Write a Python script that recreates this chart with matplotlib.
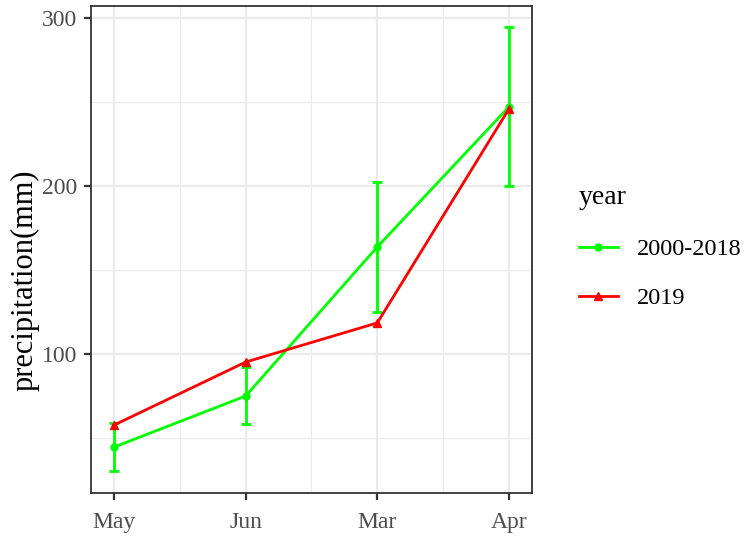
import matplotlib
matplotlib.use("Agg")
import matplotlib.pyplot as plt
from matplotlib.ticker import MultipleLocator, FixedLocator
import numpy as np

months = ["May", "Jun", "Mar", "Apr"]
mean_2000_2018 = [44.6, 75.0, 163.7, 247.0]
err_low = [30.4, 58.3, 125.0, 200.0]
err_high = [58.9, 92.3, 202.4, 294.6]
val_2019 = [57.7, 95.2, 118.5, 245.8]

plt.rcParams['font.family'] = ['Liberation Serif', 'DejaVu Serif']

fig = plt.figure(figsize=(7.5, 5.36), dpi=100)
ax = fig.add_axes([0.1213, 0.0802, 0.588, 0.9086])

x = np.arange(1, len(months) + 1)
green = "#00FF00"
red = "#FF0000"

mean = np.array(mean_2000_2018)
yerr = [mean - np.array(err_low), np.array(err_high) - mean]
ax.errorbar(x, mean, yerr=yerr, fmt='none', ecolor=green, elinewidth=2,
            capsize=3.5, capthick=2, zorder=3)
ax.plot(x, mean, color=green, lw=2, marker='o', ms=5, zorder=4, label="2000-2018")
ax.plot(x, val_2019, color=red, lw=2, marker='^', ms=6, zorder=4, label="2019")

ax.set_xlim(0.825, 4.175)
ax.set_ylim(17.3, 307)
ax.set_xticks(x)
ax.set_xticklabels(months)
ax.xaxis.set_minor_locator(FixedLocator(x[:-1] + 0.5))
ax.yaxis.set_major_locator(MultipleLocator(100))
ax.yaxis.set_minor_locator(MultipleLocator(50))

ax.grid(True, which='major', color='#EBEBEB', lw=1.6, zorder=0)
ax.grid(True, which='minor', color='#EBEBEB', lw=0.8, zorder=0)
ax.set_axisbelow(True)
for s in ax.spines.values():
    s.set_color('#333333')
    s.set_linewidth(1.3)
ax.tick_params(which='major', length=5, width=1.6, color='#333333',
               labelsize=17, labelcolor='#4D4D4D')
ax.tick_params(axis='x', pad=8.5)
ax.tick_params(axis='y', pad=5)
ax.tick_params(which='minor', length=0)
ax.set_ylabel("precipitation(mm)", fontsize=22, color='black')
ax.yaxis.set_label_coords(-0.117, 0.437)

fig.text(0.771, 0.6306, "year", fontsize=20, va='center', ha='left')
leg = fig.legend(loc='center left', bbox_to_anchor=(0.772, 0.4895), frameon=False,
                 fontsize=17.5, handlelength=1.6, labelspacing=1.1, handletextpad=0.8,
                 borderpad=0, borderaxespad=0)

fig.savefig("out.png", dpi=100)
